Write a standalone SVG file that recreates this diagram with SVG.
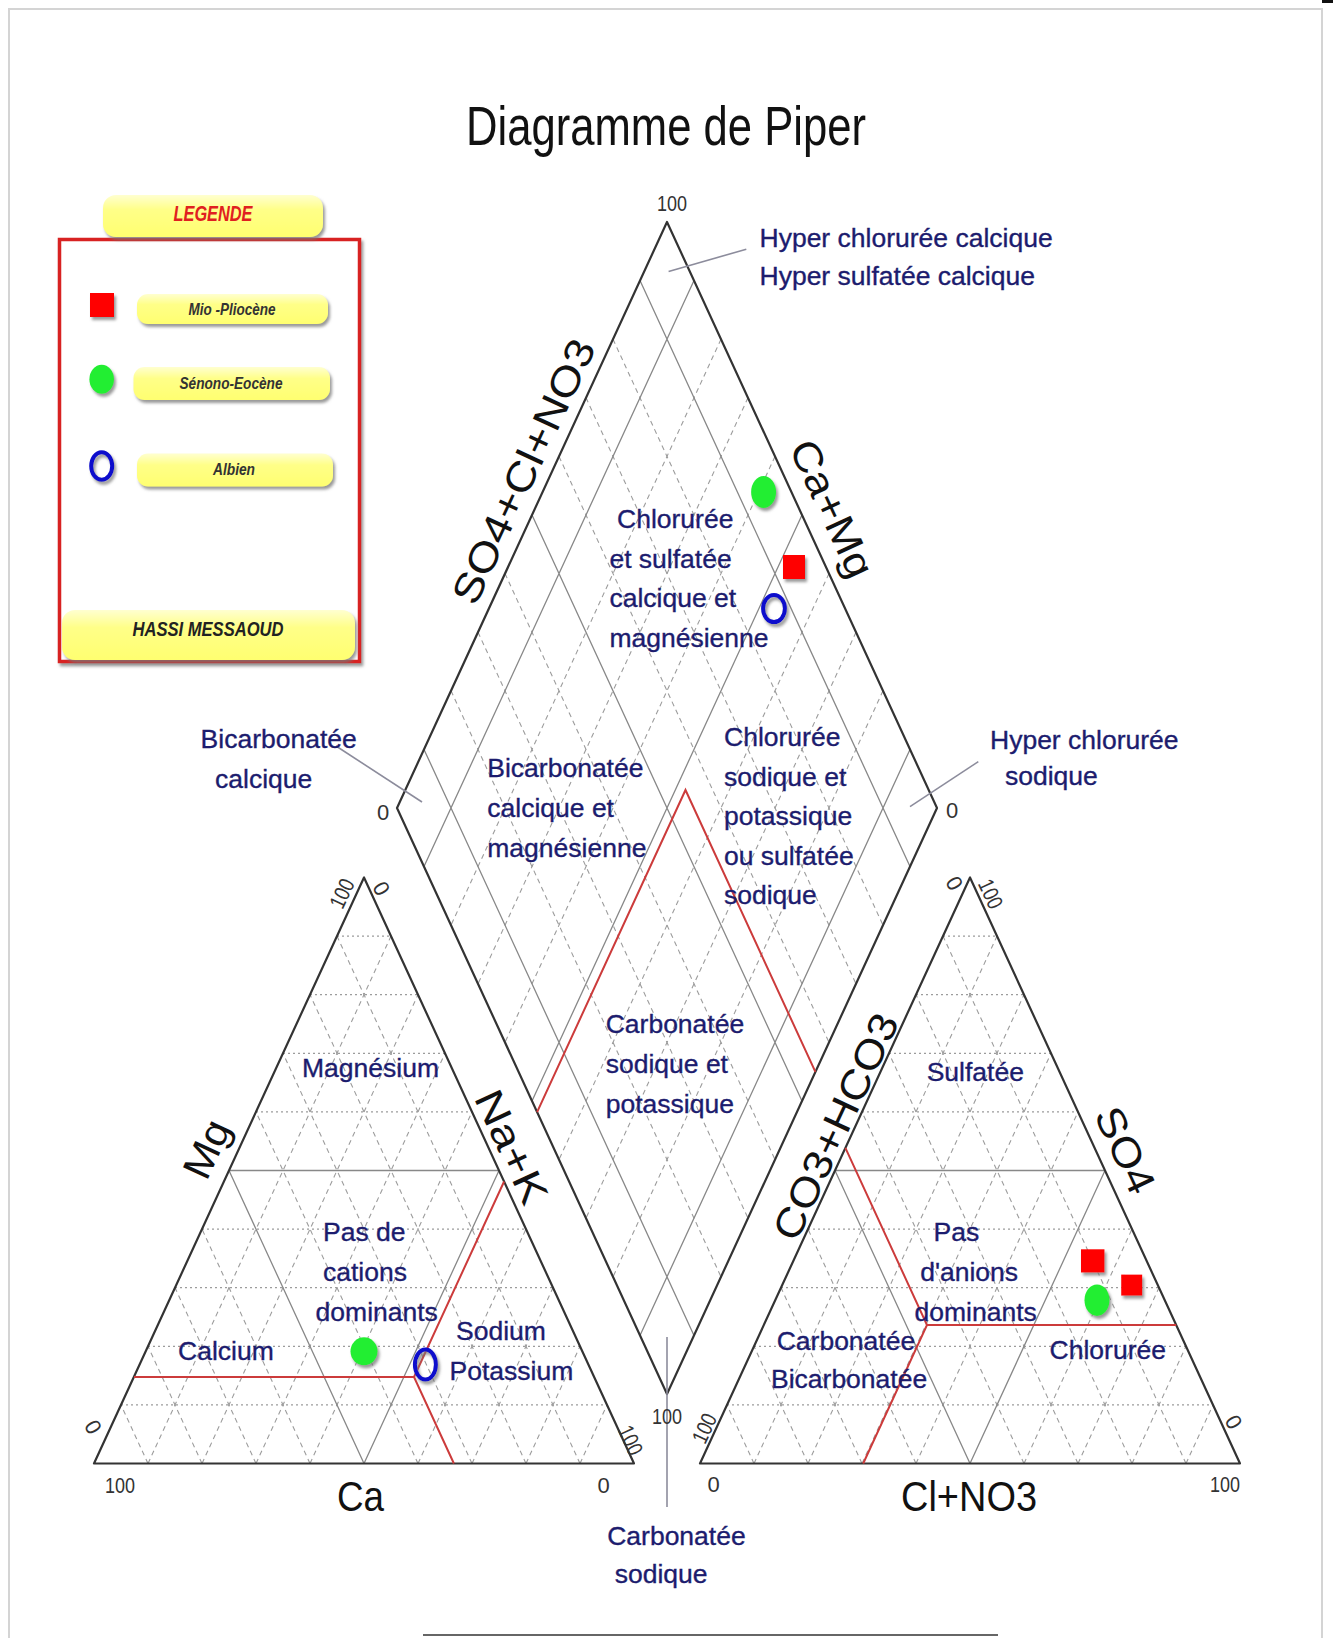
<svg xmlns="http://www.w3.org/2000/svg" xmlns:xlink="http://www.w3.org/1999/xlink" width="1333" height="1638" viewBox="0 0 1333 1638">
<defs>
<style>
.frame{fill:#fff;stroke:#d4d4d4;stroke-width:2}
.tri{fill:none;stroke:#333;stroke-width:2.2;stroke-linejoin:round}
.solid{fill:none;stroke:#888;stroke-width:1.3}
.dash{fill:none;stroke:#9c9c9c;stroke-width:1.1;stroke-dasharray:5 4}
.dot{fill:none;stroke:#9c9c9c;stroke-width:1.3;stroke-dasharray:2 3}
.red{fill:none;stroke:#cc3b3b;stroke-width:2}
.lead{stroke:#8c8c9c;stroke-width:1.6;fill:none}
.lbl{font-family:"Liberation Sans",Arial,sans-serif;font-size:26.5px;fill:#1c1c6e;stroke:#1c1c6e;stroke-width:0.35}
.tick{font-family:"Liberation Sans",Arial,sans-serif;font-size:22px;fill:#333}
.axis{font-family:"Liberation Sans",Arial,sans-serif;font-size:40px;fill:#111}
.big{font-family:"Liberation Sans",Arial,sans-serif;font-size:43px;fill:#111}
.title{font-family:"Liberation Sans",Arial,sans-serif;font-size:55px;fill:#111}
.leg{font-family:"Liberation Sans",Arial,sans-serif;font-weight:bold;font-style:italic;fill:#333;font-size:17px}
.pill{fill:url(#pillg);filter:url(#sh)}
.sq{fill:#ff0000;filter:url(#sh)}
.gr{fill:#22ee33;filter:url(#sh)}
.ring{fill:none;stroke:#0a0acc;stroke-width:4;filter:url(#sh)}
</style>
<filter id="sh" x="-30%" y="-30%" width="170%" height="180%">
<feDropShadow dx="2" dy="3" stdDeviation="1.6" flood-color="#777" flood-opacity="0.75"/>
</filter>
<linearGradient id="pillg" x1="0" y1="0" x2="0" y2="1">
<stop offset="0" stop-color="#ffffd0"/>
<stop offset="0.35" stop-color="#ffff88"/>
<stop offset="1" stop-color="#ffff70"/>
</linearGradient>
<g id="triGrid">
<path class="dot" d="M121 1404.9H607M148 1346.3H580M175 1287.7H553M202 1229.1H526M256 1111.9H472M283 1053.3H445M310 994.7H418M337 936.1H391"/>
<path class="dash" d="M148 1463.5L391 936.1M202 1463.5L418 994.7M256 1463.5L445 1053.3M310 1463.5L472 1111.9M418 1463.5L526 1229.1M472 1463.5L553 1287.7M526 1463.5L580 1346.3M580 1463.5L607 1404.9"/>
<path class="dash" d="M148 1463.5L121 1404.9M202 1463.5L148 1346.3M256 1463.5L175 1287.7M310 1463.5L202 1229.1M418 1463.5L256 1111.9M472 1463.5L283 1053.3M526 1463.5L310 994.7M580 1463.5L337 936.1"/>
<path class="solid" d="M229 1170.5H499M364 1463.5L499 1170.5M364 1463.5L229 1170.5"/>
<path class="tri" d="M94 1463.5L634 1463.5L364 877.5Z"/>
</g>
</defs>

<rect class="frame" x="9" y="9" width="1313" height="1650"/>
<path d="M1322 1.5H1333" stroke="#111" stroke-width="3"/>
<path d="M423 1635H998" stroke="#666" stroke-width="2"/>

<g id="title">
<text class="title" x="466" y="145" textLength="400" lengthAdjust="spacingAndGlyphs">Diagramme de Piper</text>
</g>

<g id="legend">
<rect x="59.5" y="239.5" width="300" height="422" fill="#fff" stroke="#d82222" stroke-width="3.5" filter="url(#sh)"/>
<rect class="pill" x="103" y="195" width="220" height="42" rx="13"/>
<text x="213" y="221" text-anchor="middle" font-family="Liberation Sans, Arial, sans-serif" font-weight="bold" font-style="italic" font-size="22" fill="#e02020" textLength="79" lengthAdjust="spacingAndGlyphs">LEGENDE</text>
<g id="leg-mio">
<rect class="sq" x="90" y="293" width="24" height="24"/>
<rect class="pill" x="137" y="294" width="191" height="30" rx="11"/>
<text class="leg" x="232" y="315" text-anchor="middle" textLength="87" lengthAdjust="spacingAndGlyphs">Mio -Pliocène</text>
</g>
<g id="leg-senono">
<ellipse class="gr" cx="101.7" cy="379.3" rx="12.3" ry="14.5"/>
<rect class="pill" x="133.5" y="367" width="196.5" height="33" rx="11"/>
<text class="leg" x="231" y="388.5" text-anchor="middle" textLength="103" lengthAdjust="spacingAndGlyphs">Sénono-Eocène</text>
</g>
<g id="leg-albien">
<ellipse class="ring" cx="101.7" cy="466" rx="10.5" ry="13.8"/>
<rect class="pill" x="137" y="453.5" width="196" height="33" rx="11"/>
<text class="leg" x="234" y="475" text-anchor="middle" textLength="42" lengthAdjust="spacingAndGlyphs">Albien</text>
</g>
<rect class="pill" x="62" y="610" width="293" height="50" rx="13"/>
<text x="208" y="636" text-anchor="middle" font-family="Liberation Sans, Arial, sans-serif" font-weight="bold" font-style="italic" font-size="21" fill="#222" textLength="151" lengthAdjust="spacingAndGlyphs">HASSI MESSAOUD</text>
</g>

<g id="triangle-cations">
<use xlink:href="#triGrid"/>
</g>
<g id="triangle-anions">
<use xlink:href="#triGrid" transform="translate(606 0)"/>
</g>

<g id="diamond">
<path class="dash" d="M613 339.2L883 925.2M586 397.8L856 983.8M559 456.4L829 1042.4M505 573.6L775 1159.6M478 632.2L748 1218.2M451 690.8L721 1276.8"/>
<path class="dash" d="M721 339.2L451 925.2M748 397.8L478 983.8M775 456.4L505 1042.4M829 573.6L559 1159.6M856 632.2L586 1218.2M883 690.8L613 1276.8"/>
<path class="solid" d="M640 280.6L910 866.6M532 515L802 1101M424 749.4L694 1335.4M694 280.6L424 866.6M802 515L532 1101M910 749.4L640 1335.4"/>
<path class="tri" d="M667 222L937 808L667 1394L397 808Z"/>
</g>

<g id="red-lines">
<path class="red" d="M134 1377H414M504.1 1181.5L414 1377L453.9 1463.5"/>
<path class="red" d="M537.1 1112.1L685.5 790L815.4 1071.9"/>
<path class="red" d="M845.4 1147.9L927 1325L863.2 1463.5M927 1325H1176.2"/>
</g>

<g id="connectors">
<path class="lead" d="M746.3 249.2L668.6 271.5"/>
<path class="lead" d="M336 746L422 802"/>
<path class="lead" d="M978.3 761.7L910 806.7"/>
<path class="lead" d="M667 1337V1507"/>
</g>

<g id="ticks">
<text class="tick" x="672" y="211" text-anchor="middle" textLength="30" lengthAdjust="spacingAndGlyphs">100</text>
<text class="tick" x="383" y="820" text-anchor="middle">0</text>
<text class="tick" x="952" y="818" text-anchor="middle">0</text>
<text class="tick" x="667" y="1424" text-anchor="middle" textLength="30" lengthAdjust="spacingAndGlyphs">100</text>
<text class="tick" x="120" y="1493" text-anchor="middle" textLength="30" lengthAdjust="spacingAndGlyphs">100</text>
<text class="tick" x="603.5" y="1493" text-anchor="middle">0</text>
<text class="tick" x="713.6" y="1492" text-anchor="middle">0</text>
<text class="tick" x="1225" y="1492" text-anchor="middle" textLength="30" lengthAdjust="spacingAndGlyphs">100</text>
<text class="tick" transform="translate(341.7 893.3) rotate(-65)" y="8" text-anchor="middle" textLength="30" lengthAdjust="spacingAndGlyphs">100</text>
<text class="tick" transform="translate(381.7 888.3) rotate(60)" y="8" text-anchor="middle">0</text>
<text class="tick" transform="translate(93.6 1426.7) rotate(60)" y="8" text-anchor="middle">0</text>
<text class="tick" transform="translate(631 1440) rotate(65)" y="8" text-anchor="middle" textLength="30" lengthAdjust="spacingAndGlyphs">100</text>
<text class="tick" transform="translate(954.7 883.1) rotate(60)" y="8" text-anchor="middle">0</text>
<text class="tick" transform="translate(991 893.7) rotate(65)" y="8" text-anchor="middle" textLength="30" lengthAdjust="spacingAndGlyphs">100</text>
<text class="tick" transform="translate(704 1428.2) rotate(-65)" y="8" text-anchor="middle" textLength="30" lengthAdjust="spacingAndGlyphs">100</text>
<text class="tick" transform="translate(1234 1421.9) rotate(60)" y="8" text-anchor="middle">0</text>
</g>

<g id="axis-labels">
<text class="big" x="337" y="1511" textLength="47" lengthAdjust="spacingAndGlyphs">Ca</text>
<text class="big" x="901" y="1511" textLength="136" lengthAdjust="spacingAndGlyphs">Cl+NO3</text>
<text class="axis" transform="translate(210 1150.7) rotate(-65)" y="10" text-anchor="middle" textLength="60" lengthAdjust="spacingAndGlyphs">Mg</text>
<text class="axis" transform="translate(511.7 1146.6) rotate(65)" y="14" text-anchor="middle" textLength="121" lengthAdjust="spacingAndGlyphs">Na+K</text>
<text class="axis" transform="translate(523.4 471.3) rotate(-65)" y="14" text-anchor="middle" textLength="287" lengthAdjust="spacingAndGlyphs">SO4+Cl+NO3</text>
<text class="axis" transform="translate(830.4 509.3) rotate(65)" y="12" text-anchor="middle" textLength="147" lengthAdjust="spacingAndGlyphs">Ca+Mg</text>
<text class="axis" transform="translate(835.5 1126.5) rotate(-65)" y="14" text-anchor="middle" textLength="245" lengthAdjust="spacingAndGlyphs">CO3+HCO3</text>
<text class="axis" transform="translate(1125.5 1150) rotate(65)" y="14" text-anchor="middle" textLength="91" lengthAdjust="spacingAndGlyphs">SO4</text>
</g>

<g id="zone-labels" class="lbl">
<text x="759.5" y="247">Hyper chlorurée calcique</text>
<text x="759.5" y="285">Hyper sulfatée calcique</text>
<text x="617" y="527.5">Chlorurée</text>
<text x="609.4" y="567.5">et sulfatée</text>
<text x="609.4" y="606.5">calcique et</text>
<text x="609.4" y="646.5">magnésienne</text>
<text x="200.6" y="748">Bicarbonatée</text>
<text x="215" y="787.7">calcique</text>
<text x="990" y="749.3">Hyper chlorurée</text>
<text x="1005" y="785">sodique</text>
<text x="487.3" y="776.5">Bicarbonatée</text>
<text x="487.3" y="816.6">calcique et</text>
<text x="487.3" y="856.6">magnésienne</text>
<text x="724" y="746">Chlorurée</text>
<text x="724" y="785.6">sodique et</text>
<text x="724" y="825.3">potassique</text>
<text x="724" y="865">ou sulfatée</text>
<text x="724" y="904.2">sodique</text>
<text x="605.7" y="1033.2">Carbonatée</text>
<text x="605.7" y="1073">sodique et</text>
<text x="605.7" y="1112.8">potassique</text>
<text x="607.2" y="1545">Carbonatée</text>
<text x="614.7" y="1583.3">sodique</text>
<text x="302" y="1077">Magnésium</text>
<text x="323" y="1241">Pas de</text>
<text x="323" y="1281">cations</text>
<text x="315.6" y="1321">dominants</text>
<text x="178" y="1360">Calcium</text>
<text x="456" y="1340">Sodium</text>
<text x="449.6" y="1380">Potassium</text>
<text x="926.7" y="1081">Sulfatée</text>
<text x="933.6" y="1241">Pas</text>
<text x="920.2" y="1281">d'anions</text>
<text x="914.5" y="1321">dominants</text>
<text x="776.7" y="1350.3">Carbonatée</text>
<text x="771" y="1388.2">Bicarbonatée</text>
<text x="1049.6" y="1358.7">Chlorurée</text>
</g>

<g id="data-points">
<ellipse class="gr" cx="763.6" cy="492" rx="12.5" ry="16"/>
<rect class="sq" x="783" y="555" width="22" height="24"/>
<ellipse class="ring" cx="774" cy="608.6" rx="10.9" ry="13.5"/>
<ellipse class="gr" cx="364" cy="1351.3" rx="13.5" ry="14"/>
<ellipse class="ring" cx="425.4" cy="1364.6" rx="10.5" ry="15"/>
<rect class="sq" x="1081" y="1249.3" width="23.5" height="23.2"/>
<rect class="sq" x="1121.2" y="1274.6" width="21" height="21"/>
<ellipse class="gr" cx="1097" cy="1300.2" rx="12.5" ry="15.8"/>
</g>
</svg>
